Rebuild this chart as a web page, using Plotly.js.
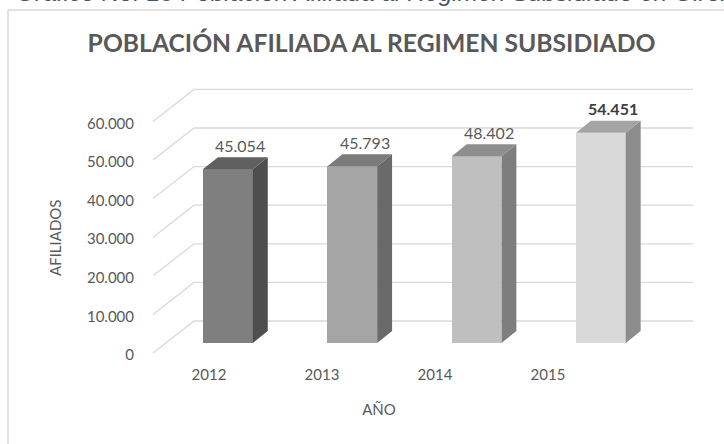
<!DOCTYPE html>
<html>
<head>
<meta charset="utf-8">
<script src="https://cdn.plot.ly/plotly-3.0.1.min.js"></script>
<style>html,body{margin:0;padding:0;background:#fff;}#chart{width:724px;height:444px;}</style>
</head>
<body>
<div id="chart"></div>
<script>
// ---- data ----
const years = ['2012', '2013', '2014', '2015'];
const afiliados = [45054, 45793, 48402, 54451];
const yTicks = [0, 10000, 20000, 30000, 40000, 50000, 60000];

// ---- style ----
const frontColors = ['#7f7f7f', '#a5a5a5', '#bfbfbf', '#d9d9d9'];
const topColors   = ['#606060', '#7b7b7b', '#8e8e8e', '#a4a4a4'];
const sideColors  = ['#4e4e4e', '#6a6a6a', '#7e7e7e', '#8c8c8c'];
const textGrey = '#595959';
const gridGrey = '#d9d9d9';
const FONT = 'Lato, "Open Sans", sans-serif';

// 3D geometry (in axis units)
const barW = 0.4;         // front face width (category units)
const depthX = 0.12;      // depth offset of bar faces, x
const depthY = 3100;      // depth offset of bar faces, y
const wallFrontX = -0.603, wallBackX = -0.2735, wallRightX = 3.741;
const floorFront = -2590, wallBack = 5700;

const idx = years.map((_, i) => i);
const fmt = v => String(v).replace(/\B(?=(\d{3})+(?!\d))/g, '.');

const traces = [];
// side and top faces
idx.forEach(i => {
  const v = afiliados[i];
  const xl = i - barW / 2, xr = i + barW / 2;
  traces.push({
    type: 'scatter', mode: 'lines', fill: 'toself', hoverinfo: 'skip', showlegend: false,
    x: [xr, xr + depthX, xr + depthX, xr, xr],
    y: [0, depthY, v + depthY, v, 0],
    line: {width: 0, color: sideColors[i]}, fillcolor: sideColors[i]
  });
  traces.push({
    type: 'scatter', mode: 'lines', fill: 'toself', hoverinfo: 'skip', showlegend: false,
    x: [xl, xr, xr + depthX, xl + depthX, xl],
    y: [v, v, v + depthY, v + depthY, v],
    line: {width: 0, color: topColors[i]}, fillcolor: topColors[i]
  });
});
// front faces
traces.push({
  type: 'bar', x: idx, y: afiliados, width: barW, showlegend: false,
  marker: {color: frontColors, line: {width: 0}},
  hovertemplate: '%{y}<extra></extra>'
});
// carriers for the label axes (invisible)
traces.push({
  type: 'scatter', mode: 'markers', x: idx, y: afiliados, xaxis: 'x2', yaxis: 'y',
  marker: {opacity: 0, size: 1}, hoverinfo: 'skip', showlegend: false
});
traces.push({
  type: 'scatter', mode: 'markers', x: idx, y: afiliados, xaxis: 'x', yaxis: 'y2',
  marker: {opacity: 0, size: 1}, hoverinfo: 'skip', showlegend: false
});

// gridlines (side wall + back wall), below all traces
const shapes = yTicks.map(v => ({
  type: 'path', xref: 'x', yref: 'y', layer: 'below',
  path: 'M' + wallFrontX + ',' + (v + floorFront) +
        ' L' + wallBackX + ',' + (v + wallBack) +
        ' L' + wallRightX + ',' + (v + wallBack),
  line: {color: gridGrey, width: 1.3}
}));
// chart frame
shapes.push({type: 'line', xref: 'paper', yref: 'paper', x0: (8 - 65) / 628, x1: (8 - 65) / 628,
  y0: 1 + 60 / 294, y1: -0.4, line: {color: gridGrey, width: 1.5}});
shapes.push({type: 'line', xref: 'paper', yref: 'paper', x0: (8 - 65) / 628, x1: 1.2,
  y0: 1 + 60 / 294, y1: 1 + 60 / 294, line: {color: gridGrey, width: 1.5}});

const annotations = idx.map(i => ({
  x: i + 0.1, y: afiliados[i] + depthY, xref: 'x', yref: 'y',
  text: i === idx.length - 1 ? '<b>' + fmt(afiliados[i]) + '</b>' : fmt(afiliados[i]),
  showarrow: false, yanchor: 'middle', yshift: 12,
  font: {family: FONT, size: 16, color: i === idx.length - 1 ? '#404040' : textGrey}
}));
annotations.push({
  text: 'AFILIADOS', textangle: -90, showarrow: false,
  xref: 'paper', yref: 'paper', x: (55 - 65) / 628, y: (364 - 238) / 294,
  xanchor: 'center', yanchor: 'middle',
  font: {family: FONT, size: 15, color: textGrey}
});
annotations.push({
  text: '<i>Gráfico No. 18 Población Afiliada al Régimen Subsidiado en Girón</i>',
  showarrow: false, xref: 'paper', yref: 'paper',
  x: (14 - 65) / 628, y: 1 + (70 + 7.5) / 294, xanchor: 'left', yanchor: 'middle',
  font: {family: '"Liberation Sans", Arial, sans-serif', size: 24.5, color: '#44546a'}
});

const layout = {
  width: 724, height: 444,
  margin: {l: 65, r: 31, t: 70, b: 80},
  paper_bgcolor: '#ffffff', plot_bgcolor: 'rgba(0,0,0,0)',
  separators: ',.',
  font: {family: FONT, color: textGrey},
  title: {
    text: '<b>POBLACIÓN AFILIADA AL REGIMEN SUBSIDIADO</b>',
    x: 371.5 / 724, xanchor: 'center', xref: 'container',
    y: 1 - 43 / 444, yanchor: 'middle', yref: 'container',
    font: {family: FONT, size: 24.7, color: textGrey}
  },
  xaxis: {range: [-1.3113, 3.7409], visible: false, fixedrange: true},
  xaxis2: {
    overlaying: 'x', anchor: 'y', side: 'bottom',
    range: [-1.2743, 4.2832], tickvals: idx, ticktext: years,
    showgrid: false, zeroline: false, showline: false, ticks: '',
    tickfont: {family: FONT, size: 15, color: textGrey},
    title: {text: 'AÑO', standoff: 22, font: {family: FONT, size: 15, color: textGrey}}
  },
  yaxis: {range: [-5440, 70726], visible: false, fixedrange: true},
  yaxis2: {
    overlaying: 'y', anchor: 'free', position: (134 - 65) / 628, side: 'left',
    range: [-5440 + 3100, 70726 + 3100], tickvals: yTicks, tickformat: ',d',
    showgrid: false, zeroline: false, showline: false, ticks: '',
    tickfont: {family: FONT, size: 15, color: textGrey}
  },
  shapes: shapes,
  annotations: annotations,
  bargap: 0
};

Plotly.newPlot('chart', traces, layout, {staticPlot: true, displayModeBar: false});
</script>
</body>
</html>
